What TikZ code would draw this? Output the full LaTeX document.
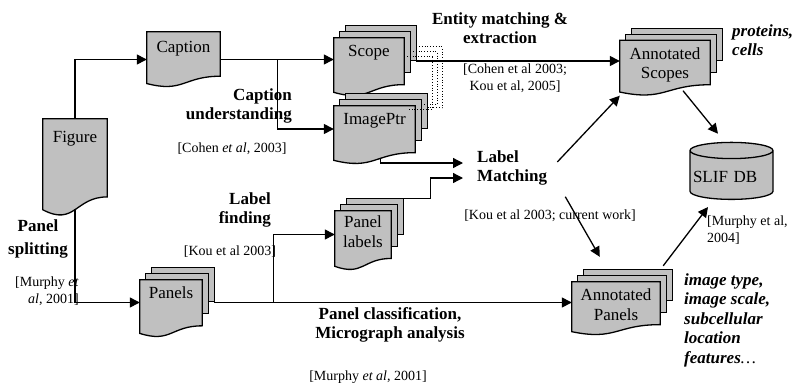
\documentclass[tikz,border=0pt]{standalone}
\usepackage{fontspec}
\setmainfont{Liberation Serif}
\usetikzlibrary{arrows.meta,shapes.geometric,backgrounds,calc}

\definecolor{sheetgray}{RGB}{192,192,192}
\newcommand{\bodyfont}{\fontsize{17}{19.5}\selectfont}
\newcommand{\citefont}{\fontsize{14}{16.5}\selectfont}
\newlength{\sheetgap}
\setlength{\sheetgap}{6pt}

% one sheet with a wavy lower edge, drawn round a node
\newcommand{\docsheet}[1]{%
  \draw[sheet] let \p1=(#1.north west), \p2=(#1.south east), \n1={\y1-\y2} in
    (\p1) -- (\x2,\y1) -- (\x2,\y1-0.802*\n1)
    .. controls ({(\x1+\x2)/2},\y1-0.802*\n1) and ({(\x1+\x2)/2},\y1-1.107*\n1) .. (\x1,\y1-0.934*\n1) -- cycle;}

% three stacked sheets: two plain ones behind, a wavy one in front
\newcommand{\docstack}[1]{%
  \foreach \k in {2,1}
    \draw[sheet] let \p1=(#1.north west), \p2=(#1.south east),
        \n1={\y1-2*\sheetgap-\y2}, \n2={\y1-2*\sheetgap-0.802*\n1} in
      (\x1+\k*\sheetgap,\y1-2*\sheetgap+\k*\sheetgap) rectangle (\x2-2*\sheetgap+\k*\sheetgap,\n2+2*\k*\sheetgap);
  \draw[sheet] let \p1=(#1.north west), \p2=(#1.south east),
      \n1={\y1-2*\sheetgap-\y2}, \n3={\y1-2*\sheetgap}, \n4={\x2-2*\sheetgap} in
    (\x1,\n3) -- (\n4,\n3) -- (\n4,\n3-0.802*\n1)
    .. controls ({(\x1+\n4)/2},\n3-0.802*\n1) and ({(\x1+\n4)/2},\n3-1.107*\n1) .. (\x1,\n3-0.934*\n1) -- cycle;}

\begin{document}
\begin{tikzpicture}[
    x=1pt, y=1pt,
    sheet/.style={draw=black, line width=1.3pt, fill=sheetgray},
    doc/.style 2 args={rectangle, inner sep=0pt, minimum width=#1, minimum height=#2},
    doctext/.style={anchor=north, inner sep=0pt, yshift=-7pt, font=\bodyfont, align=center},
    stacktext/.style={doctext, xshift=-\sheetgap, yshift=-2*\sheetgap},
    task/.style={font=\bodyfont\bfseries, inner sep=0pt},
    cite/.style={font=\citefont, inner sep=0pt},
    note/.style={font=\bodyfont\bfseries\itshape, inner sep=0pt, align=left},
    arrow/.style={-{Triangle[length=10pt,width=10pt]}, line width=1.3pt},
    link/.style={dotted, line width=0.8pt}
]
\useasboundingbox (0,0) rectangle (795,-383);

% documents
\node[doc={64pt}{97pt}, label={[doctext,yshift=-5pt]north:Figure}] (figure) at (75,-167.5) {};
\node[doc={73pt}{55pt}, label={[doctext,yshift=-2pt]north:Caption}] (caption) at (183.5,-59.5) {};
\node[doc={82pt}{70pt}, label={[stacktext]north:Scope}] (scope) at (375,-61) {};
\node[doc={93pt}{70pt}, label={[stacktext]north:ImagePtr}] (imageptr) at (380.5,-129) {};
\node[doc={68pt}{71pt}, label={[stacktext,yshift=2pt]north:Panel\\labels}] (plabels) at (369,-234.5) {};
\node[doc={74pt}{69pt}, label={[stacktext]north:Panels}] (panels) at (177,-302.5) {};
\node[doc={102pt}{67pt}, label={[stacktext]north:Annotated\\Scopes}] (ascopes) at (671,-62) {};
\node[doc={100pt}{65pt}, label={[stacktext]north:Annotated\\Panels}] (apanels) at (622,-302.5) {};
\node[cylinder, shape border rotate=90, aspect=0.2, draw, line width=1.3pt, fill=sheetgray,
      minimum width=83pt, minimum height=57pt, inner xsep=2pt, text width=77pt, align=left,
      font=\bodyfont] (slif) at (731.5,-176.5) {SLIF DB};

\begin{scope}[on background layer]
  \docsheet{figure}
  \docsheet{caption}
  \docstack{scope}
  \docstack{imageptr}
  \docstack{plabels}
  \docstack{panels}
  \docstack{ascopes}
  \docstack{apanels}
\end{scope}

% step names and references
\node[task, align=right, anchor=east] (capund) at (292,-106) {Caption\\understanding};
\node[cite] (capcite) at (232,-149) {[Cohen \textit{et al}, 2003]};
\node[task, align=right, anchor=east] (lfind) at (271,-210) {Label\\finding};
\node[cite] (lfcite) at (230,-252) {[Kou et al 2003]};
\node[task, align=center] (psplit) at (38,-239) {Panel\\[4pt]splitting};
\node[cite, align=right, anchor=east] (pscite) at (79,-291) {[Murphy \textit{et}\\\textit{al}, 2001]};
\node[task, align=center] (pclass) at (390,-325) {Panel classification,\\Micrograph analysis};
\node[cite] (pccite) at (368,-377) {[Murphy \textit{et al}, 2001]};
\node[task, align=left, anchor=west, inner xsep=14pt] (match) at (463,-168) {Label\\Matching};
\node[cite] (mcite) at (550,-216) {[Kou et al 2003; current work]};
\node[task, align=center] (entity) at (500,-28) {Entity matching \&\\extraction};
\node[cite, align=center] (ecite) at (515,-78) {[Cohen et al 2003;\\Kou et al, 2005]};
\node[note, anchor=west] (sfeat) at (732,-40) {proteins,\\cells};
\node[cite, align=left, anchor=west] (scite) at (707,-230) {[Murphy et al,\\2004]};
\node[note, anchor=north west] (pfeat) at (684,-273)
  {image type,\\image scale,\\subcellular\\location\\features{\mdseries\dots}};

% flow
\draw[arrow] (figure.north) |- (caption.west);
\draw[arrow] (caption.east) -- (caption.east -| scope.west);
\draw[arrow] ([xshift=57pt]caption.east) |- (imageptr.west);
\draw[arrow] ([yshift=7pt]figure.south) |- (panels.west);
\draw[arrow] (panels.east) -- (panels.east -| apanels.west);
\draw[arrow] ([xshift=59pt]panels.east) |- (plabels.west);
\draw[arrow] ([yshift=6pt]imageptr.south) |- ([yshift=5pt]match.west);
\draw[arrow] (plabels.north east) -- ++(27pt,0) |- ([yshift=-10pt]match.west);
\draw[arrow] (scope.east) -- (scope.east -| ascopes.west);
\draw[arrow] ([xshift=-4pt,yshift=6pt]match.east) -- (ascopes.south west);
\draw[arrow] ([xshift=4pt,yshift=-11pt]match.south east) -- ([xshift=28pt,yshift=13pt]apanels.north west);
\draw[arrow] ([xshift=12pt,yshift=5pt]ascopes.south) -- ([xshift=-13.5pt,yshift=8pt]slif.north);
\draw[arrow] ([xshift=-9pt,yshift=4pt]apanels.north east) -- ([xshift=-23.5pt,yshift=-7pt]slif.south);

% scope entries tied to their image pointers
\draw[link] ([yshift=-21pt]scope.north east) -- ++(26pt,0) |- ([yshift=-14pt]imageptr.north east);
\draw[link] ([xshift=-6pt,yshift=-26pt]scope.north east) -- ++(27pt,0) |- ([xshift=-7pt,yshift=-11pt]imageptr.north east);
\draw[link] ([xshift=-12pt,yshift=-31pt]scope.north east) -- ++(28pt,0) |- ([xshift=-19pt,yshift=-16pt]imageptr.north east);
\end{tikzpicture}
\end{document}
